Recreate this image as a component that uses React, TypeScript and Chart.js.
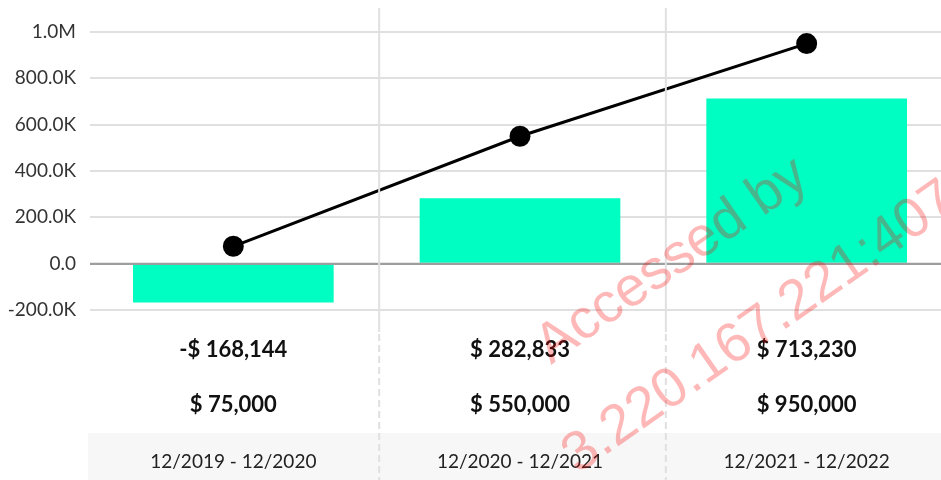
import React, { useEffect, useRef } from "react";
import { Chart, registerables } from "chart.js";

Chart.register(...registerables);

const categories = ["12/2019 - 12/2020", "12/2020 - 12/2021", "12/2021 - 12/2022"];
const barValues = [-168144, 282833, 713230];
const lineValues = [75000, 550000, 950000];
const yMin = -200000;
const yMax = 1000000;
const yStep = 200000;

const FONT = "Lato, 'Open Sans', sans-serif";

function fmtTick(v: number): string {
  if (v === 0) return "0.0";
  if (Math.abs(v) >= 1000000) return (v / 1000000).toFixed(1) + "M";
  return (v / 1000).toFixed(1) + "K";
}

function fmtMoney(v: number): string {
  const s = Math.abs(v).toLocaleString("en-US");
  return (v < 0 ? "-$ " : "$ ") + s;
}

const tablePlugin = {
  id: "tablePlugin",
  afterDatasetsDraw(chart: any) {
    const { ctx, chartArea, scales } = chart;
    const y0 = scales.y.getPixelForValue(0);
    ctx.save();
    ctx.strokeStyle = "#9e9e9e";
    ctx.lineWidth = 2;
    ctx.beginPath();
    ctx.moveTo(chartArea.left, y0);
    ctx.lineTo(chartArea.right, y0);
    ctx.stroke();
    ctx.restore();
  },
  afterDraw(chart: any) {
    const { ctx, scales, width } = chart;
    const x = scales.x;
    ctx.save();
    // grey label row
    ctx.fillStyle = "#f7f7f7";
    ctx.fillRect(88, 433, width - 88, 47);
    // separators
    ctx.strokeStyle = "#e0e0e0";
    ctx.lineWidth = 2;
    for (let i = 0; i < categories.length - 1; i++) {
      const bx = (x.getPixelForValue(i) + x.getPixelForValue(i + 1)) / 2 + 2.5;
      ctx.setLineDash([]);
      ctx.beginPath();
      ctx.moveTo(bx, 8);
      ctx.lineTo(bx, 332);
      ctx.stroke();
      ctx.setLineDash([7, 4]);
      ctx.beginPath();
      ctx.moveTo(bx, 334);
      ctx.lineTo(bx, 480);
      ctx.stroke();
    }
    ctx.setLineDash([]);
    // table text
    ctx.textAlign = "center";
    ctx.textBaseline = "middle";
    for (let i = 0; i < categories.length; i++) {
      const cx = x.getPixelForValue(i);
      ctx.fillStyle = "#111";
      ctx.font = `bold 22px ${FONT}`;
      ctx.fillText(fmtMoney(barValues[i]), cx, 350);
      ctx.fillText(fmtMoney(lineValues[i]), cx, 405);
      ctx.fillStyle = "#222";
      ctx.font = `19px ${FONT}`;
      ctx.fillText(categories[i], cx, 462);
    }
    ctx.restore();
  },
};

export default function App() {
  const ref = useRef<HTMLCanvasElement | null>(null);
  useEffect(() => {
    if (!ref.current) return;
    const chart = new Chart(ref.current, {
      type: "bar",
      data: {
        labels: categories,
        datasets: [
          {
            type: "line",
            data: lineValues,
            borderColor: "#000",
            borderWidth: 3,
            pointRadius: 9,
            pointBackgroundColor: "#000",
            pointBorderColor: "#000",
            order: 0,
          } as any,
          {
            type: "bar",
            data: barValues,
            backgroundColor: "#00fdc2",
            barPercentage: 0.7,
            categoryPercentage: 1,
            order: 1,
          },
        ],
      },
      options: {
        animation: false,
        responsive: false,
        devicePixelRatio: 1,
        layout: { padding: { top: 32, bottom: 170, left: 0, right: 0 } },
        plugins: { legend: { display: false }, tooltip: { enabled: false } },
        scales: {
          x: { display: false },
          y: {
            min: yMin,
            max: yMax,
            border: { display: false },
            grid: {
              drawTicks: false,
              lineWidth: 2,
              color: (c: any) => (c.tick && c.tick.value === 0 ? "#9e9e9e" : "#e0e0e0"),
            },
            ticks: {
              stepSize: yStep,
              padding: 14,
              color: "#333",
              font: { family: FONT, size: 19 },
              callback: (v: any) => fmtTick(Number(v)),
            },
            afterFit: (s: any) => {
              s.width = 90;
            },
          },
        },
      },
      plugins: [tablePlugin],
    });
    return () => chart.destroy();
  }, []);

  return (
    <div
      style={{
        position: "fixed",
        left: 0,
        top: 0,
        width: 941,
        height: 480,
        overflow: "hidden",
        background: "#fff",
      }}
    >
      <canvas ref={ref} width={962} height={480} style={{ position: "absolute", left: 0, top: 0 }} />
      <svg
        width={941}
        height={480}
        style={{ position: "absolute", left: 0, top: 0, pointerEvents: "none" }}
      >
        <g transform="translate(551,365) rotate(-35)" fill="rgba(255,0,0,0.28)" fontFamily="'Liberation Sans', Arial, sans-serif" fontSize={56}>
          <text x={0} y={0}>Accessed by</text>
          <text x={-41} y={105}>3.220.167.221:407</text>
        </g>
      </svg>
    </div>
  );
}
